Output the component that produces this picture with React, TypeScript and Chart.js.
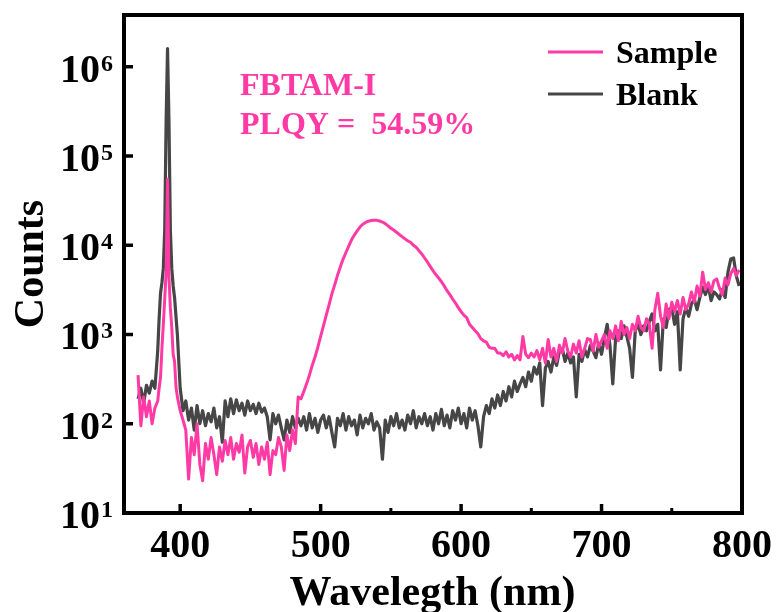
import React, { useEffect, useRef } from 'react';
import { Chart, registerables } from 'chart.js';

Chart.register(...registerables);

// ---------- data ----------
const wavelengths = [
  370, 372, 374, 376, 378, 380, 382, 384,
  385, 386, 387, 388, 389, 390, 391, 392, 393, 394, 395, 396, 397, 398,
  400, 402, 404, 406, 408, 410, 412, 414, 416, 418,
  420, 422, 424, 426, 428, 430, 432, 434, 436, 438,
  440, 442, 444, 446, 448, 450, 452, 454, 456, 458,
  460, 462, 464, 466, 468, 470, 472, 474, 476, 478,
  480, 482, 484, 486, 488, 490, 492, 494, 496, 498,
  500, 502, 504, 506, 508, 510, 512, 514, 516, 518,
  520, 522, 524, 526, 528, 530, 532, 534, 536, 538,
  540, 542, 544, 546, 548, 550, 552, 554, 556, 558,
  560, 562, 564, 566, 568, 570, 572, 574, 576, 578,
  580, 582, 584, 586, 588, 590, 592, 594, 596, 598,
  600, 602, 604, 606, 608, 610, 612, 614, 616, 618,
  620, 622, 624, 626, 628, 630, 632, 634, 636, 638,
  640, 642, 644, 646, 648, 650, 652, 654, 656, 658,
  660, 662, 664, 666, 668, 670, 672, 674, 676, 678,
  680, 682, 684, 686, 688, 690, 692, 694, 696, 698,
  700, 702, 704, 706, 708, 710, 712, 714, 716, 718,
  720, 722, 724, 726, 728, 730, 732, 734, 736, 738,
  740, 742, 744, 746, 748, 750, 752, 754, 756, 758,
  760, 762, 764, 766, 768, 770, 772, 774, 776, 778,
  780, 782, 784, 786, 788, 790, 792, 794, 796, 798,
];

const sampleCounts = [
  350, 95, 200, 120, 180, 100, 150, 180,
  250, 330, 700, 1300, 2500, 5000, 55000, 4500, 2000, 1200, 600, 500, 260, 200,
  140, 110, 85, 24, 70, 45, 100, 35, 23, 60,
  40, 70, 45, 27, 55, 38, 65, 45, 70, 40,
  60, 48, 75, 28, 55, 65, 42, 60, 35, 55,
  40, 62, 27, 50, 45, 70, 55, 30, 75, 50,
  85, 60, 200, 190, 230, 280, 350, 450, 560, 720,
  950, 1250, 1650, 2150, 2850, 3600, 4600, 5700, 7000, 8300,
  9800, 11500, 13000, 14500, 16000, 17200, 18000, 18600, 18900, 19000,
  19000, 18700, 18200, 17500, 16500, 15500, 14800, 14000, 13200, 12500,
  11800, 11200, 10800, 10000, 9500, 8700, 8000, 7200, 6500, 5800,
  5200, 4700, 4300, 3900, 3500, 3100, 2800, 2500, 2250, 2000,
  1800, 1650, 1550, 1300, 1200, 1100, 1020, 900, 850, 820,
  720, 700, 700, 620, 620, 580, 640, 560, 600, 520,
  580, 520, 950, 600, 550, 620, 560, 660, 520, 700,
  480, 880, 560, 700, 500, 760, 620, 900, 650, 560,
  780, 620, 850, 560, 700, 900, 880, 650, 1000, 720,
  850, 1000, 700, 1100, 900, 1250, 850, 1400, 1000, 1200,
  900, 1300, 1100, 1600, 1200, 1100, 1500, 1300, 700, 1900,
  2900, 1600, 1200, 2200, 1500, 2300, 1800, 2400, 1700, 2600,
  1900, 2200, 3000, 2300, 3500, 2700, 5000, 3200, 3800, 3000,
  4000, 4200, 3300, 2800, 4300, 3600, 4800, 5500, 4600, 5300,
];

const blankCounts = [
  190, 250, 170, 270, 220, 300, 250, 650,
  1500, 2900, 3800, 5500, 15000, 250000, 1600000, 250000, 15000, 5500, 3500, 2600, 1600, 1000,
  250, 140, 180, 110, 150, 85, 160, 100, 140, 95,
  130, 105, 150, 90, 120, 62, 180, 120, 190, 130,
  185, 140, 170, 125, 180, 140, 165, 130, 170, 135,
  150, 120, 66, 130, 100, 125, 90, 66, 110, 80,
  120, 90, 115, 95, 120, 85, 130, 90, 115, 80,
  110, 125, 90, 120, 80, 55, 115, 95, 130, 85,
  120, 95, 110, 75, 125, 90, 115, 100, 130, 85,
  105, 90, 40, 110, 80, 120, 95, 130, 90, 110,
  85, 125, 100, 140, 90, 120, 100, 130, 95, 120,
  85, 130, 100, 145, 95, 125, 90, 140, 110, 150,
  100, 130, 90, 150, 110, 140, 95, 55, 120, 160,
  130, 190, 150, 210, 160, 230, 180, 260, 200, 300,
  230, 280, 330, 260, 380, 300, 430, 360, 480, 160,
  420, 500, 380, 560, 450, 650, 700, 500, 620, 480,
  560, 200, 600, 500, 680, 560, 750, 650, 550, 800,
  600, 900, 1300, 750, 280, 900, 1100, 900, 1250, 950,
  700, 330, 1100, 1300, 1000, 1250, 1100, 1400, 1700, 1100,
  1300, 400, 1500, 1200, 1900, 2000, 1300, 1800, 400, 1500,
  2000, 1600, 2200, 2500, 1900, 2600, 3400, 2800, 3500, 2400,
  3000, 2800, 2500, 3200, 2600, 5000, 7000, 7200, 4500, 3500,
];

const seriesNames = ['Sample', 'Blank'];
const xMajorTicks = [400, 500, 600, 700, 800];
const xMinorTicks = [450, 550, 650, 750];
const yTickExponents = [1, 2, 3, 4, 5, 6];
const annotationLines = ['FBTAM-I', 'PLQY =  54.59%'];
const xTitle = 'Wavelegth (nm)';
const yTitle = 'Counts';

const PINK = '#ff3aa5';
const GRAY = '#464646';
const FONT = '"Liberation Serif", "Times New Roman", serif';

const decorPlugin = {
  id: 'decor',
  afterDraw(chart: any) {
    const { ctx, chartArea: a, scales } = chart;
    const xs = scales.x;
    const ys = scales.y;
    ctx.save();
    ctx.strokeStyle = '#000';
    ctx.fillStyle = '#000';
    ctx.lineCap = 'butt';

    // inward ticks
    ctx.lineWidth = 3.5;
    for (const t of xMajorTicks) {
      const px = xs.getPixelForValue(t);
      ctx.beginPath();
      ctx.moveTo(px, a.bottom);
      ctx.lineTo(px, a.bottom - 9);
      ctx.stroke();
    }
    ctx.lineWidth = 3;
    for (const t of xMinorTicks) {
      const px = xs.getPixelForValue(t);
      ctx.beginPath();
      ctx.moveTo(px, a.bottom);
      ctx.lineTo(px, a.bottom - 5);
      ctx.stroke();
    }
    ctx.lineWidth = 3.5;
    for (const e of yTickExponents) {
      const py = ys.getPixelForValue(Math.pow(10, e));
      ctx.beginPath();
      ctx.moveTo(a.left, py);
      ctx.lineTo(a.left + 9, py);
      ctx.stroke();
    }

    // frame
    ctx.lineWidth = 4;
    ctx.strokeRect(a.left, a.top, a.right - a.left, a.bottom - a.top);

    // x tick labels
    ctx.font = `bold 40px ${FONT}`;
    ctx.textAlign = 'center';
    ctx.textBaseline = 'alphabetic';
    for (const t of xMajorTicks) {
      ctx.fillText(String(t), xs.getPixelForValue(t), a.bottom + 44);
    }

    // y tick labels 10^n
    for (const e of yTickExponents) {
      const py = ys.getPixelForValue(Math.pow(10, e));
      ctx.font = `bold 40px ${FONT}`;
      ctx.textAlign = 'right';
      ctx.fillText('10', 100, py + 15);
      ctx.font = `bold 24px ${FONT}`;
      ctx.textAlign = 'left';
      ctx.fillText(String(e), 101, py + 4);
    }

    // axis titles
    ctx.font = `bold 42px ${FONT}`;
    ctx.textAlign = 'center';
    ctx.fillText(xTitle, (a.left + a.right) / 2 - 0.5, 605);
    ctx.save();
    ctx.translate(43, (a.top + a.bottom) / 2);
    ctx.rotate(-Math.PI / 2);
    ctx.fillText(yTitle, 0, 0);
    ctx.restore();

    // annotation
    ctx.fillStyle = PINK;
    ctx.font = `bold 32px ${FONT}`;
    ctx.textAlign = 'left';
    ctx.fillText(annotationLines[0], 240, 95);
    ctx.fillText(annotationLines[1], 240, 134);

    // legend
    const legendColors = [PINK, GRAY];
    const legendY = [52, 94];
    seriesNames.forEach((name, i) => {
      ctx.strokeStyle = legendColors[i];
      ctx.lineWidth = 3;
      ctx.beginPath();
      ctx.moveTo(548, legendY[i]);
      ctx.lineTo(603, legendY[i]);
      ctx.stroke();
      ctx.fillStyle = '#000';
      ctx.font = `bold 32px ${FONT}`;
      ctx.fillText(name, 616, legendY[i] + 11);
    });
    ctx.restore();
  },
};

export default function App() {
  const ref = useRef<HTMLCanvasElement>(null);
  useEffect(() => {
    const canvas = ref.current;
    if (!canvas) return;
    const sample = wavelengths.map((x, i) => ({ x, y: sampleCounts[i] }));
    const blank = wavelengths.map((x, i) => ({ x, y: blankCounts[i] }));
    const chart = new Chart(canvas, {
      type: 'line',
      data: {
        datasets: [
          {
            label: seriesNames[0],
            data: sample,
            borderColor: PINK,
            backgroundColor: PINK,
            borderWidth: 3,
            pointRadius: 0,
            tension: 0,
            borderJoinStyle: 'round',
          },
          {
            label: seriesNames[1],
            data: blank,
            borderColor: GRAY,
            backgroundColor: GRAY,
            borderWidth: 3.2,
            pointRadius: 0,
            tension: 0,
            borderJoinStyle: 'round',
          },
        ],
      },
      options: {
        animation: false,
        responsive: false,
        maintainAspectRatio: false,
        devicePixelRatio: 1,
        layout: { padding: { left: 124, right: 34, top: 15, bottom: 99 } },
        plugins: { legend: { display: false }, tooltip: { enabled: false } },
        scales: {
          x: { type: 'linear', min: 360, max: 800, display: false },
          y: { type: 'logarithmic', min: 10, max: 3.8e6, display: false },
        },
      } as any,
      plugins: [decorPlugin],
    });
    return () => chart.destroy();
  }, []);
  return (
    <div style={{ position: 'fixed', left: 0, top: 0, width: 776, height: 612, background: '#fff' }}>
      <canvas ref={ref} width={776} height={612} style={{ display: 'block' }} />
    </div>
  );
}
